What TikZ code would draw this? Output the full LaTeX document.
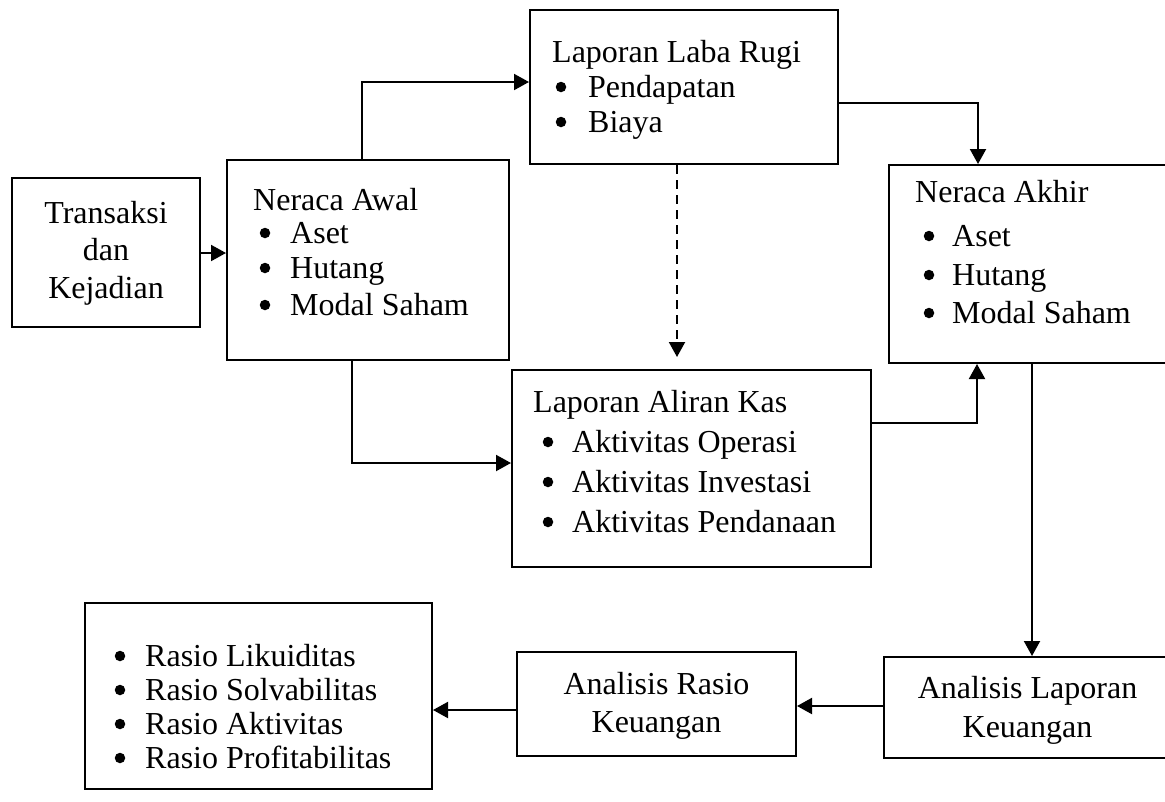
\documentclass[tikz,border=0pt]{standalone}
\usepackage{fontspec}
\setmainfont{Liberation Serif}
\usetikzlibrary{arrows.meta}
\tikzset{
  box/.style={draw, line width=2pt, inner sep=0pt, rectangle},
  txt/.style={inner sep=0pt, font=\fontsize{32pt}{38pt}\selectfont},
  dot/.style={circle, fill=black, inner sep=0pt, minimum size=10.5pt},
  conn/.style={line width=2pt, -{Triangle[length=15pt,width=16pt]}},
}
\newcommand{\bitem}[5]{%
  \node[dot] (#1b) at (#2,#4-10) {};
  \node[txt,anchor=base west] (#1) at (#3,#4) {#5};}
\begin{document}
\begin{tikzpicture}[x=1pt,y=-1pt]
\useasboundingbox (0,0) rectangle (1165,801);
\clip (0,0) rectangle (1165,801);

% boxes
\node[box, minimum width=188pt, minimum height=149pt] (TK) at (106,252.5) {};
\node[box, minimum width=282pt, minimum height=200pt] (NA) at (368,260) {};
\node[box, minimum width=308pt, minimum height=154pt] (LR) at (684,87) {};
\node[box, minimum width=279pt, minimum height=198pt] (NK) at (1028.5,264) {};
\node[box, minimum width=359pt, minimum height=197pt] (LAK) at (691.5,468.5) {};
\node[box, minimum width=284pt, minimum height=101pt] (ALK) at (1026,707.5) {};
\node[box, minimum width=279pt, minimum height=104pt] (AR) at (656.5,704) {};
\node[box, minimum width=347pt, minimum height=186pt] (RS) at (258.5,696) {};

% Transaksi
\node[txt,anchor=base] (tk1) at (106,223) {Transaksi};
\node[txt,anchor=base] (tk2) at (106,260) {dan};
\node[txt,anchor=base] (tk3) at (106,298) {Kejadian};

% Neraca Awal
\node[txt,anchor=base west] (nah) at (253,210) {Neraca Awal};
\bitem{na1}{265}{290}{243}{Aset}
\bitem{na2}{265}{290}{278}{Hutang}
\bitem{na3}{265}{290}{315}{Modal Saham}

% Laporan Laba Rugi
\node[txt,anchor=base west] (lrh) at (552,62) {Laporan Laba Rugi};
\bitem{lr1}{561}{588}{97}{Pendapatan}
\bitem{lr2}{561}{588}{132}{Biaya}

% Neraca Akhir
\node[txt,anchor=base west] (nkh) at (915,202) {Neraca Akhir};
\bitem{nk1}{929}{952}{246}{Aset}
\bitem{nk2}{929}{952}{285}{Hutang}
\bitem{nk3}{929}{952}{323}{Modal Saham}

% Laporan Aliran Kas
\node[txt,anchor=base west] (lakh) at (533,412) {Laporan Aliran Kas};
\bitem{lak1}{548}{572}{452}{Aktivitas Operasi}
\bitem{lak2}{548}{572}{492}{Aktivitas Investasi}
\bitem{lak3}{548}{572}{532}{Aktivitas Pendanaan}

% Analisis Laporan Keuangan
\node[txt,anchor=base] (alk1) at (1027.5,698) {Analisis Laporan};
\node[txt,anchor=base] (alk2) at (1027.5,737) {Keuangan};

% Analisis Rasio Keuangan
\node[txt,anchor=base] (ar1) at (656.5,694) {Analisis Rasio};
\node[txt,anchor=base] (ar2) at (656.5,732) {Keuangan};

% Rasio list
\bitem{rs1}{120}{145}{666}{Rasio Likuiditas}
\bitem{rs2}{120}{145}{700}{Rasio Solvabilitas}
\bitem{rs3}{120}{145}{734}{Rasio Aktivitas}
\bitem{rs4}{120}{145}{768}{Rasio Profitabilitas}

% connectors
\coordinate (c0) at (150,253);
\coordinate (c1) at (362,82);
\coordinate (c2) at (978,103);
\coordinate (c3) at (677,200);
\coordinate (c4) at (352,463);
\coordinate (c5) at (977,423);
\coordinate (c6) at (1032,500);
\coordinate (c7) at (840,706);
\coordinate (c8) at (480,710);

\draw[conn] (c0 -| TK.east) -- (c0 -| NA.west);
\draw[conn] (c1 |- NA.north) -- (c1) -- (c1 -| LR.west);
\draw[conn] (c2 -| LR.east) -- (c2) -- (c2 |- NK.north);
\draw[conn, dash pattern=on 9pt off 6pt, shorten >=12pt] (c3 |- LR.south) -- (c3 |- LAK.north);
\draw[conn] (c4 |- NA.south) -- (c4) -- (c4 -| LAK.west);
\draw[conn] (c5 -| LAK.east) -- (c5) -- (c5 |- NK.south);
\draw[conn] (c6 |- NK.south) -- (c6 |- ALK.north);
\draw[conn] (c7 -| ALK.west) -- (c7 -| AR.east);
\draw[conn] (c8 -| AR.west) -- (c8 -| RS.east);
\end{tikzpicture}
\end{document}
